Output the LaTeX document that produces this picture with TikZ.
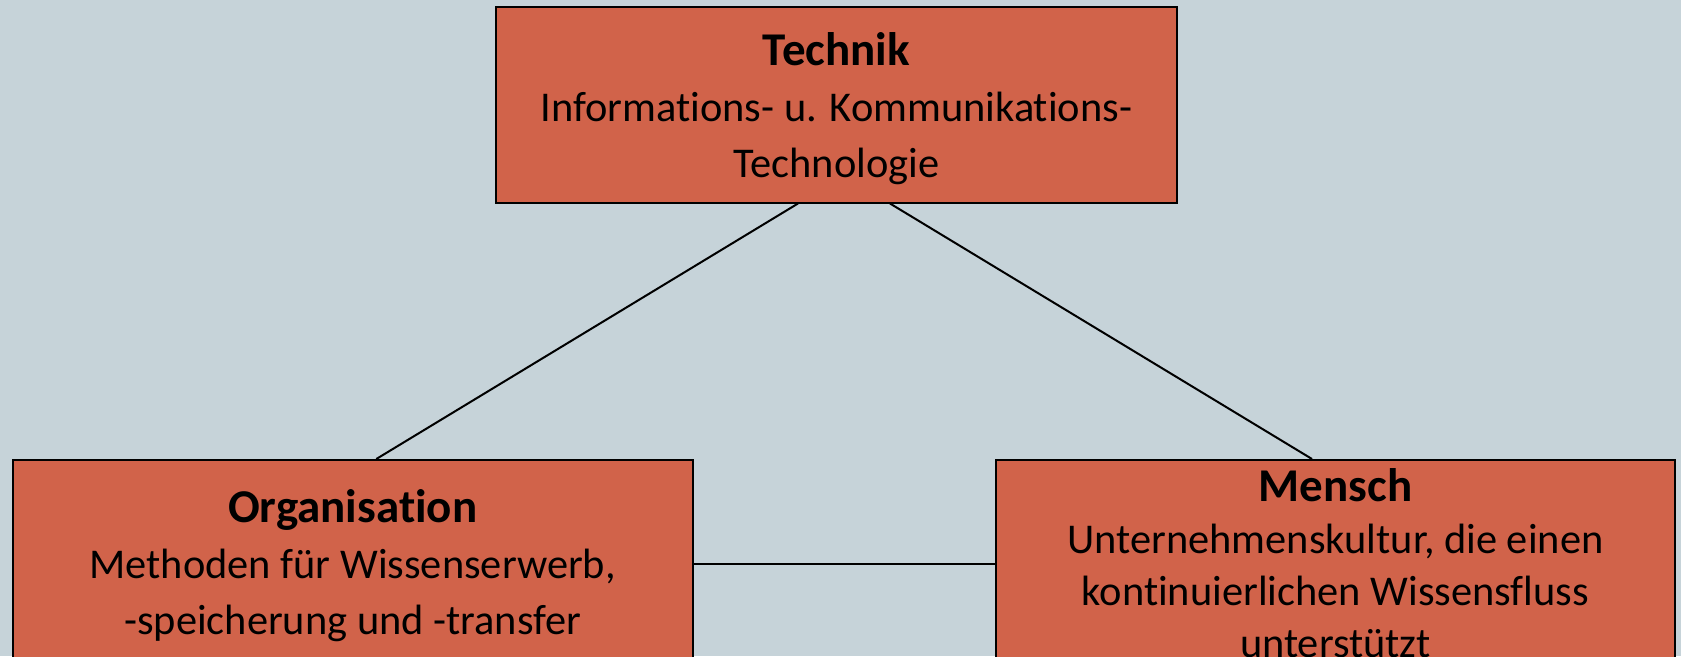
\documentclass[tikz,border=0pt]{standalone}
\usepackage{fontspec}
\setmainfont{Carlito}[Ligatures=NoCommon]
\usetikzlibrary{calc}
\definecolor{bgcol}{RGB}{198,211,217}
\definecolor{boxcol}{RGB}{209,99,74}
\begin{document}
\begin{tikzpicture}[x=1pt,y=-1pt,
  block/.style={draw=black,line width=2pt,fill=boxcol,rectangle,inner sep=0pt},
  boxtext/.style={align=center,inner sep=0pt,font=\fontsize{42.4}{56}\selectfont},
  link/.style={draw=black,line width=2pt}]
\fill[bgcol] (0,0) rectangle (1681,656);
\useasboundingbox (0,0) rectangle (1681,656);
\begin{scope}
  \clip (0,0) rectangle (1681,656);
  % the three fields
  \node[block,minimum width=681pt,minimum height=196pt] (tech) at (836.5,104.5) {};
  \node[block,minimum width=680pt,minimum height=208pt] (org) at (352.7,564) {};
  \node[block,minimum width=679pt,minimum height=208pt] (men) at (1335.5,564) {};
\end{scope}
% attachment points of the connectors
\coordinate (techL) at ($(tech.south)+(-38.5,0)$);
\coordinate (techR) at ($(tech.south)+(53.5,0)$);
\coordinate (orgT) at ($(org.north)+(23.6,0)$);
\coordinate (menT) at ($(men.north)+(-23.5,0)$);
\draw[link] (techL) -- (orgT);
\draw[link] (techR) -- (menT);
\draw[link] (org.east) -- (men.west);
% texts
\node[boxtext] (techtxt) at (836.5,108.5)
  {{\fontsize{47}{56}\selectfont\bfseries Technik}\\Informations- u. Kommunikations-\\Technologie};
\node[boxtext] (orgtxt) at (352.7,566)
  {{\fontsize{47}{56}\selectfont\bfseries Organisation}\\Methoden für Wissenserwerb,\\ -speicherung und -transfer};
\node[boxtext,font=\fontsize{42.4}{52}\selectfont] (mentxt) at (1335.5,563)
  {{\fontsize{47}{52}\selectfont\bfseries Mensch}\\Unternehmenskultur, die einen\\kontinuierlichen Wissensfluss\\unterstützt};
\end{tikzpicture}
\end{document}
